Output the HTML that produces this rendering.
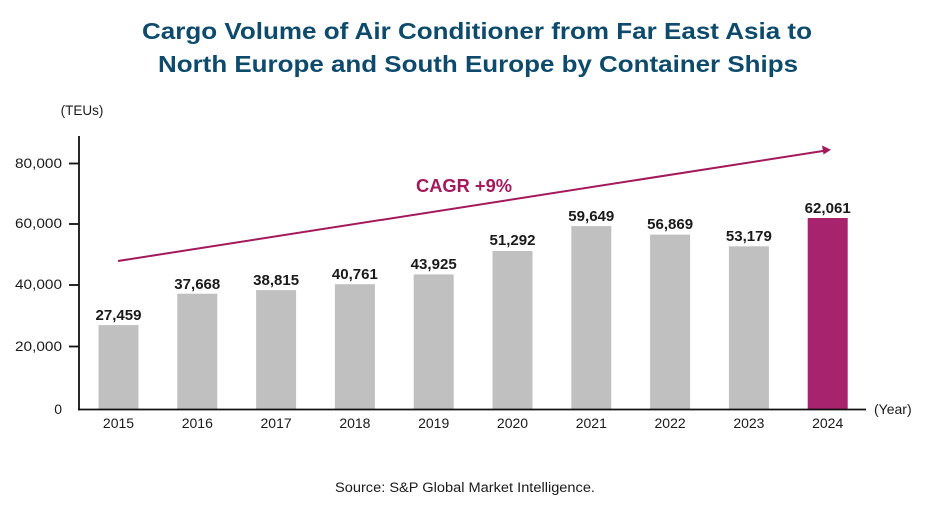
<!DOCTYPE html>
<html><head><meta charset="utf-8"><style>
html,body{margin:0;padding:0;background:#fff;}
svg{display:block;}
text{font-family:"Liberation Sans",Arial,sans-serif;}
</style></head><body>
<svg width="935" height="510" viewBox="0 0 935 510" xmlns="http://www.w3.org/2000/svg">
<rect width="935" height="510" fill="#fff"/>
<text x="477" y="39" text-anchor="middle" font-size="23" font-weight="bold" fill="#0d4a6b" textLength="670" lengthAdjust="spacingAndGlyphs">Cargo Volume of Air Conditioner from Far East Asia to</text>
<text x="478" y="72" text-anchor="middle" font-size="23" font-weight="bold" fill="#0d4a6b" textLength="640" lengthAdjust="spacingAndGlyphs">North Europe and South Europe by Container Ships</text>

<text x="82" y="115" text-anchor="middle" font-size="13.5" fill="#1a1a1a">(TEUs)</text>

<g font-size="14" fill="#1a1a1a" text-anchor="end">
<text x="62" y="168" textLength="47" lengthAdjust="spacingAndGlyphs">80,000</text>
<text x="62" y="228" textLength="47" lengthAdjust="spacingAndGlyphs">60,000</text>
<text x="62" y="289" textLength="47" lengthAdjust="spacingAndGlyphs">40,000</text>
<text x="62" y="351" textLength="47" lengthAdjust="spacingAndGlyphs">20,000</text>
<text x="62" y="414">0</text>
</g>

<g fill="#c0c0c0">
<rect x="98.5" y="325.1" width="40" height="84.4"/>
<rect x="177.3" y="293.7" width="40" height="115.8"/>
<rect x="256.1" y="290.1" width="40" height="119.4"/>
<rect x="334.9" y="284.2" width="40" height="125.3"/>
<rect x="413.7" y="274.4" width="40" height="135.1"/>
<rect x="492.5" y="251.0" width="40" height="158.5"/>
<rect x="571.3" y="226.1" width="40" height="183.4"/>
<rect x="650.1" y="234.6" width="40" height="174.9"/>
<rect x="728.9" y="246.3" width="40" height="163.2"/>
</g>
<rect x="807.7" y="218" width="40" height="191.5" fill="#a8236d"/>

<g font-size="15" font-weight="bold" fill="#1a1a1a" text-anchor="middle">
<text x="118.5" y="320" textLength="46" lengthAdjust="spacingAndGlyphs">27,459</text>
<text x="197.3" y="289" textLength="46" lengthAdjust="spacingAndGlyphs">37,668</text>
<text x="276.1" y="285" textLength="46" lengthAdjust="spacingAndGlyphs">38,815</text>
<text x="354.9" y="279" textLength="46" lengthAdjust="spacingAndGlyphs">40,761</text>
<text x="433.7" y="269" textLength="46" lengthAdjust="spacingAndGlyphs">43,925</text>
<text x="512.5" y="245" textLength="46" lengthAdjust="spacingAndGlyphs">51,292</text>
<text x="591.3" y="221" textLength="46" lengthAdjust="spacingAndGlyphs">59,649</text>
<text x="670.1" y="229" textLength="46" lengthAdjust="spacingAndGlyphs">56,869</text>
<text x="748.9" y="241" textLength="46" lengthAdjust="spacingAndGlyphs">53,179</text>
<text x="827.7" y="213" textLength="46" lengthAdjust="spacingAndGlyphs">62,061</text>
</g>

<g stroke="#111" stroke-width="1.8" fill="none">
<line x1="79" y1="136" x2="79" y2="410.4"/>
<line x1="78.1" y1="409.5" x2="866" y2="409.5"/>
<line x1="69" y1="163.5" x2="79" y2="163.5"/>
<line x1="69" y1="224" x2="79" y2="224"/>
<line x1="69" y1="285" x2="79" y2="285"/>
<line x1="69" y1="346.5" x2="79" y2="346.5"/>
</g>

<g font-size="14" fill="#1a1a1a" text-anchor="middle">
<text x="118.5" y="428">2015</text>
<text x="197.3" y="428">2016</text>
<text x="276.1" y="428">2017</text>
<text x="354.9" y="428">2018</text>
<text x="433.7" y="428">2019</text>
<text x="512.5" y="428">2020</text>
<text x="591.3" y="428">2021</text>
<text x="670.1" y="428">2022</text>
<text x="748.9" y="428">2023</text>
<text x="827.7" y="428">2024</text>
</g>
<text x="874" y="414" font-size="14" fill="#1a1a1a">(Year)</text>

<line x1="118" y1="261" x2="826" y2="150.5" stroke="#a3195b" stroke-width="2"/>
<polygon points="831,149.7 822,145.5 823.5,154.5" fill="#a3195b"/>
<text x="416" y="192" font-size="18" font-weight="bold" fill="#a3195b" textLength="96" lengthAdjust="spacingAndGlyphs">CAGR +9%</text>

<text x="465" y="492" text-anchor="middle" font-size="13.5" fill="#1a1a1a" textLength="260" lengthAdjust="spacingAndGlyphs">Source: S&amp;P Global Market Intelligence.</text>
</svg>
</body></html>
